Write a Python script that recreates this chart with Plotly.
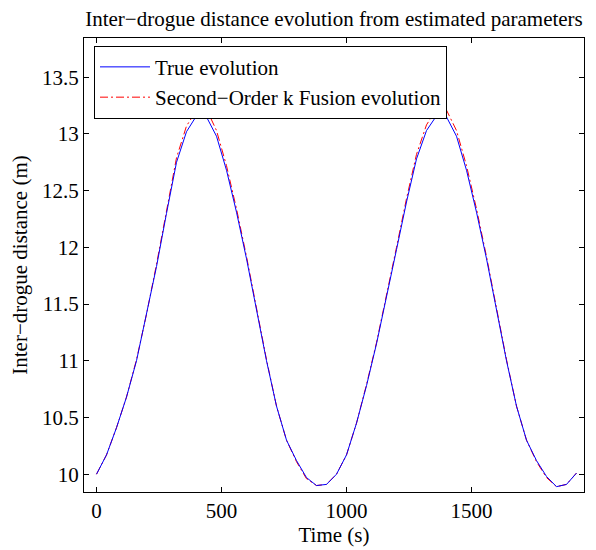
import plotly.graph_objects as go

time_s = [0, 40, 80, 120, 160, 200, 240, 280, 320, 360, 400, 440, 480, 520, 560, 600,
          640, 680, 720, 760, 800, 840, 880, 920, 960, 1000, 1040, 1080, 1120, 1160,
          1200, 1240, 1280, 1320, 1360, 1400, 1440, 1480, 1520, 1560, 1600, 1640,
          1680, 1720, 1760, 1800, 1840, 1880, 1920]

true_evolution = [10.00, 10.17, 10.41, 10.68, 11.00, 11.40, 11.83, 12.30, 12.75, 13.02,
                  13.16, 13.15, 12.98, 12.68, 12.31, 11.90, 11.45, 11.00, 10.60, 10.30,
                  10.12, 9.97, 9.90, 9.91, 10.00, 10.17, 10.45, 10.78, 11.15, 11.55,
                  11.98, 12.40, 12.78, 13.03, 13.16, 13.15, 12.98, 12.68, 12.31, 11.90,
                  11.45, 11.00, 10.60, 10.30, 10.12, 9.98, 9.89, 9.91, 10.01]

fusion_evolution = [10.00, 10.17, 10.41, 10.68, 11.01, 11.41, 11.85, 12.33, 12.79, 13.07,
                    13.21, 13.22, 13.03, 12.72, 12.34, 11.92, 11.46, 11.01, 10.60, 10.30,
                    10.11, 9.96, 9.90, 9.91, 10.00, 10.17, 10.45, 10.79, 11.16, 11.57,
                    12.00, 12.43, 12.82, 13.08, 13.22, 13.21, 13.03, 12.72, 12.34, 11.92,
                    11.46, 11.01, 10.60, 10.30, 10.11, 9.97, 9.89, 9.91, 10.01]

x_ticks = [0, 500, 1000, 1500]
x_tick_labels = ["0", "500", "1000", "1500"]
y_ticks = [10, 10.5, 11, 11.5, 12, 12.5, 13, 13.5]
y_tick_labels = ["10", "10.5", "11", "11.5", "12", "12.5", "13", "13.5"]

FONT = "Liberation Serif"
FS = 21

fig = go.Figure()
fig.add_trace(go.Scatter(
    x=time_s, y=fusion_evolution, mode="lines",
    name="Second\u2212Order k Fusion evolution",
    line=dict(color="#ff0000", width=1, dash="8px,3px,2px,3px"),
    legendrank=2,
))
fig.add_trace(go.Scatter(
    x=time_s, y=true_evolution, mode="lines",
    name="True evolution",
    line=dict(color="#0000ff", width=1),
    legendrank=1,
))

axis_common = dict(
    showline=True, linecolor="black", linewidth=1, mirror="allticks",
    ticks="inside", ticklen=5, tickcolor="black", tickwidth=1,
    showgrid=False, zeroline=False, automargin=False,
    tickfont=dict(family=FONT, size=FS, color="black"),
)

# the page adds an 8px body margin, so the figure starts at (8, 8)
fig.update_layout(
    width=596, height=550,
    paper_bgcolor="white", plot_bgcolor="white",
    margin=dict(l=76, r=20, t=30, b=66),
    title=dict(text="Inter\u2212drogue distance evolution from estimated parameters",
               x=0.547, xanchor="center", xref="container", y=0.981, yanchor="middle",
               yref="container",
               font=dict(family=FONT, size=21, color="black")),
    xaxis=dict(range=[-50, 1950], tickvals=x_ticks, ticktext=x_tick_labels,
               title=dict(text="Time (s)", standoff=0,
                          font=dict(family=FONT, size=FS, color="black")),
               **axis_common),
    yaxis=dict(range=[9.843, 13.846], tickvals=y_ticks, ticktext=y_tick_labels,
               title=dict(text="Inter\u2212drogue distance (m)", standoff=8,
                          font=dict(family=FONT, size=FS, color="black")),
               **axis_common),
    legend=dict(x=0.02, y=0.983, xanchor="left", yanchor="top",
                bgcolor="white", bordercolor="black", borderwidth=1,
                font=dict(family=FONT, size=FS, color="black"),
                itemwidth=50, tracegroupgap=0),
    showlegend=True,
)

fig.write_html("out.html")
